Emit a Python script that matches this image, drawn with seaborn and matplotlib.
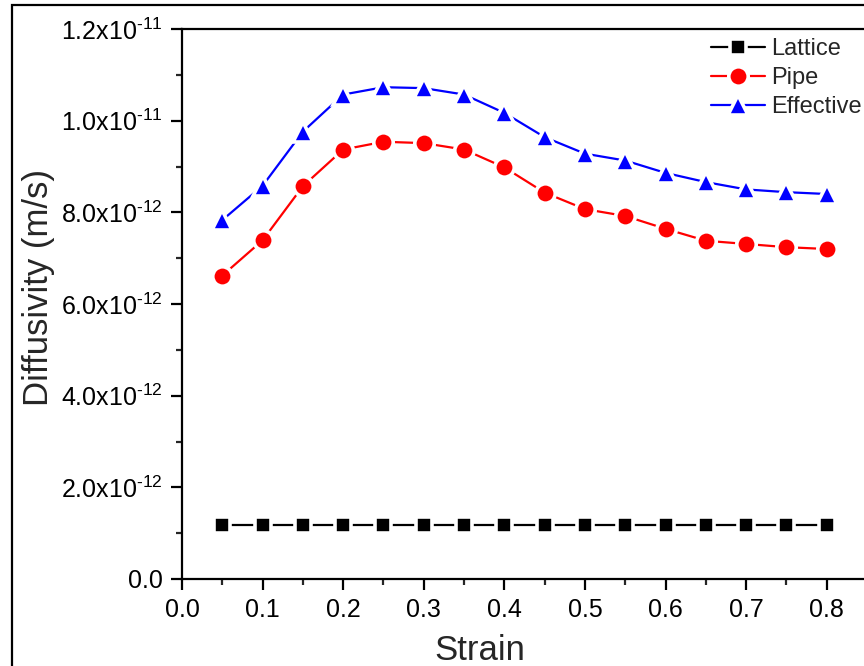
import numpy as np
import pandas as pd
import matplotlib
matplotlib.use("Agg")
import matplotlib.pyplot as plt
from matplotlib.patches import Rectangle
from matplotlib.ticker import MultipleLocator, FuncFormatter
import seaborn as sns

# Strain values and diffusivities (m/s)
strain = [0.05, 0.10, 0.15, 0.20, 0.25, 0.30, 0.35, 0.40,
          0.45, 0.50, 0.55, 0.60, 0.65, 0.70, 0.75, 0.80]
lattice = [1.18e-12] * 16
pipe = [6.62e-12, 7.39e-12, 8.57e-12, 9.37e-12, 9.54e-12, 9.51e-12, 9.37e-12, 8.98e-12,
        8.43e-12, 8.07e-12, 7.92e-12, 7.64e-12, 7.38e-12, 7.31e-12, 7.24e-12, 7.20e-12]
effective = [7.83e-12, 8.58e-12, 9.76e-12, 10.57e-12, 10.73e-12, 10.71e-12, 10.57e-12, 10.17e-12,
             9.64e-12, 9.28e-12, 9.13e-12, 8.86e-12, 8.66e-12, 8.50e-12, 8.44e-12, 8.40e-12]
series_names = ["Lattice", "Pipe", "Effective"]
series_colors = ["#000000", "#ff0000", "#0000ff"]
series_markers = ["s", "o", "^"]
marker_sizes = [12.0, 14.0, 14.5]

sns.set_style("ticks")
plt.rcParams["font.family"] = ["Liberation Sans", "DejaVu Sans"]
plt.rcParams["mathtext.fontset"] = "custom"
plt.rcParams["mathtext.rm"] = "Liberation Sans"
plt.rcParams["mathtext.it"] = "Liberation Sans:italic"

fig = plt.figure(figsize=(8.64, 6.66), dpi=100)
ax = fig.add_axes([182 / 864, 87 / 666, 685 / 864, 550 / 666])

# outer frame around the whole graph page
fig.patches.append(Rectangle((12 / 864, -0.05), 1.2, (661 - (-0.05 * 666)) / 666,
                             transform=fig.transFigure, fill=False,
                             edgecolor="black", linewidth=1.6, zorder=0))

df = pd.DataFrame({"Strain": strain * 3,
                   "D": lattice + pipe + effective,
                   "series": sum([[n] * len(strain) for n in series_names], [])})

for name, col, mk, ms in zip(series_names, series_colors, series_markers, marker_sizes):
    sub = df[df["series"] == name]
    sns.lineplot(data=sub, x="Strain", y="D", ax=ax, color=col, marker=mk,
                 markersize=ms, markeredgecolor="white", markeredgewidth=2.6,
                 linewidth=1.6, label=name)

ax.set_xlim(0, 0.85)
ax.set_ylim(0, 1.2e-11)
ax.xaxis.set_major_locator(MultipleLocator(0.1))
ax.xaxis.set_minor_locator(MultipleLocator(0.05))
ax.yaxis.set_major_locator(MultipleLocator(2e-12))
ax.yaxis.set_minor_locator(MultipleLocator(1e-12))
ax.xaxis.set_major_formatter(FuncFormatter(lambda v, p: f"{v:.1f}"))


def sci_fmt(v, pos):
    if abs(v) < 1e-20:
        return "0.0"
    exp = int(np.floor(np.log10(abs(v))))
    mant = v / 10 ** exp
    return r"$\mathregular{%.1fx10^{\text{%d}}}$" % (mant, exp)


ax.yaxis.set_major_formatter(FuncFormatter(sci_fmt))

for s in ["top", "right", "left", "bottom"]:
    ax.spines[s].set_linewidth(1.6)
    ax.spines[s].set_color("black")

ax.tick_params(axis="both", which="major", direction="out", length=8, width=1.6,
               labelsize=18, pad=6, colors="black")
ax.tick_params(axis="both", which="minor", direction="out", length=4.5, width=1.6)

ax.set_xlabel("Strain", fontsize=25)
ax.set_ylabel("Diffusivity (m/s)", fontsize=25)
ax.xaxis.set_label_coords(0.435, -0.10)
ax.yaxis.set_label_coords(-0.186, 0.53)

leg = ax.legend(loc="upper left", bbox_to_anchor=(711 / 864, 1 - 38 / 666),
                bbox_transform=fig.transFigure, frameon=False, fontsize=17,
                handlelength=2.3, handletextpad=0.25, labelspacing=0.3,
                borderaxespad=0, borderpad=0)

fig.savefig("out.png", dpi=100)
